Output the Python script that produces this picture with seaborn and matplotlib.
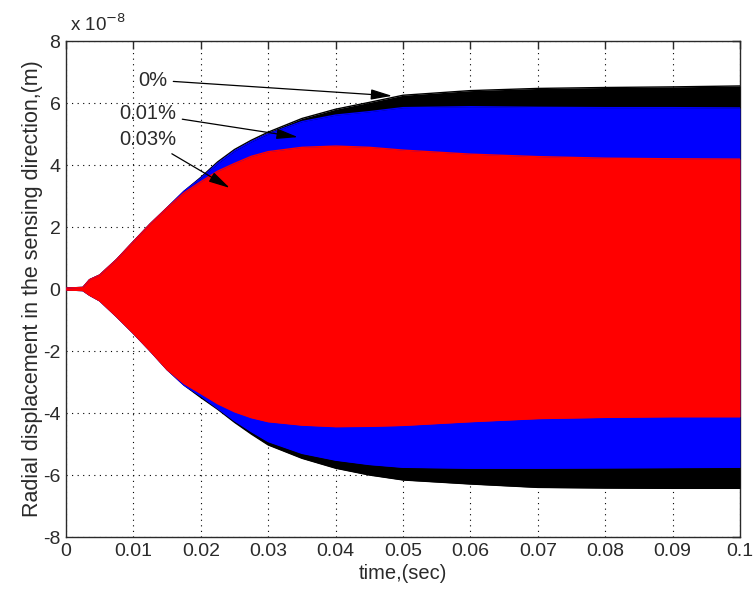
import numpy as np
import pandas as pd
import matplotlib
matplotlib.use("Agg")
import matplotlib.pyplot as plt
import seaborn as sns

# Time instants (s) at which the oscillation envelopes are sampled
times = [0.0, 0.0025, 0.0035, 0.005, 0.0075, 0.01, 0.0125, 0.015, 0.0175, 0.02,
         0.0225, 0.025, 0.0275, 0.03, 0.035, 0.04, 0.045, 0.05, 0.06, 0.07, 0.08,
         0.09, 0.1]

# Upper / lower envelopes of the radial displacement (units of 1e-8 m)
upper_0 = [0.03, 0.05, 0.3, 0.45, 0.95, 1.53, 2.1, 2.62, 3.15, 3.6,
           4.1, 4.5, 4.8, 5.06, 5.5, 5.8, 6.02, 6.25, 6.4, 6.47, 6.5, 6.52, 6.55]
lower_0 = [-0.03, -0.05, -0.2, -0.38, -0.89, -1.43, -2.0, -2.6, -3.1, -3.5,
           -3.88, -4.3, -4.68, -5.03, -5.46, -5.78, -6.0, -6.16, -6.29, -6.4,
           -6.42, -6.43, -6.43]

upper_001 = [0.03, 0.05, 0.3, 0.45, 0.95, 1.53, 2.1, 2.62, 3.15, 3.57,
             4.05, 4.45, 4.75, 5.0, 5.4, 5.61, 5.72, 5.85, 5.88, 5.86, 5.85, 5.85, 5.84]
lower_001 = [-0.03, -0.05, -0.2, -0.38, -0.89, -1.43, -2.0, -2.6, -3.1, -3.45,
             -3.85, -4.25, -4.6, -4.92, -5.3, -5.52, -5.66, -5.75, -5.78, -5.78,
             -5.77, -5.76, -5.75]

upper_003 = [0.03, 0.05, 0.3, 0.45, 0.95, 1.53, 2.1, 2.62, 3.1, 3.46,
             3.8, 4.05, 4.28, 4.43, 4.57, 4.61, 4.57, 4.48, 4.35, 4.27, 4.22, 4.2, 4.19]
lower_003 = [-0.03, -0.05, -0.2, -0.38, -0.89, -1.43, -2.0, -2.6, -3.05, -3.37,
             -3.7, -3.96, -4.15, -4.28, -4.39, -4.44, -4.43, -4.4, -4.28, -4.18,
             -4.14, -4.12, -4.12]

series_labels = ["0%", "0.01%", "0.03%"]
series_colors = ["#000000", "#0000FF", "#FF0000"]

x_ticks = [0, 0.01, 0.02, 0.03, 0.04, 0.05, 0.06, 0.07, 0.08, 0.09, 0.1]
x_tick_labels = ["0", "0.01", "0.02", "0.03", "0.04", "0.05", "0.06", "0.07", "0.08", "0.09", "0.1"]
y_ticks = [-8, -6, -4, -2, 0, 2, 4, 6, 8]
y_tick_labels = ["-8", "-6", "-4", "-2", "0", "2", "4", "6", "8"]

# annotation text anchors and arrow tips (time, displacement)
label_text_pos = [(0.0107, 6.74), (0.0079, 5.65), (0.0079, 4.82)]
label_arrow_tip = [(0.0484, 6.23), (0.0344, 4.9), (0.0243, 3.26)]

sns.set_style("white")
plt.rcParams["font.family"] = ["Liberation Sans", "DejaVu Sans"]
plt.rcParams["axes.unicode_minus"] = False

text_color = "#2a2a2a"

frames = []
for lab, up, lo in zip(series_labels,
                       [upper_0, upper_001, upper_003],
                       [lower_0, lower_001, lower_003]):
    frames.append(pd.DataFrame({"t": times, "upper": up, "lower": lo, "case": lab}))
df = pd.concat(frames, ignore_index=True)

fig = plt.figure(figsize=(7.56, 5.94), dpi=100)
ax = fig.add_axes([66 / 756, 57 / 594, 674 / 756, 496 / 594])

for lab, col in zip(series_labels, series_colors):
    d = df[df["case"] == lab]
    ax.fill_between(d["t"], d["lower"], d["upper"], color=col, linewidth=0, zorder=3)
    sns.lineplot(data=d, x="t", y="upper", color=col, lw=1.0, ax=ax, zorder=3)
    sns.lineplot(data=d, x="t", y="lower", color=col, lw=1.0, ax=ax, zorder=3)

ax.set_xlim(0, 0.1)
ax.set_ylim(-8, 8)
ax.set_xticks(x_ticks)
ax.set_xticklabels(x_tick_labels)
ax.set_yticks(y_ticks)
ax.set_yticklabels(y_tick_labels)

ax.grid(True, color="black", linestyle=(0, (1, 4)), linewidth=0.8, zorder=1)
ax.set_axisbelow(True)
ax.tick_params(direction="in", length=6, width=1.0, top=True, right=True,
               labelsize=14, colors=text_color, pad=4)
for sp in ax.spines.values():
    sp.set_color(text_color)
    sp.set_linewidth(1.0)

ax.set_xlabel("time,(sec)", fontsize=14.5, color=text_color, labelpad=3)
ax.set_ylabel("Radial displacement in the sensing direction,(m)", fontsize=15.5,
              color=text_color, labelpad=0)

fig.text(70 / 756, 1 - 31 / 594, "x 10$^{-8}$", fontsize=13.5, color=text_color,
         ha="left", va="baseline")

for lab, (tx, ty), (ax_t, ay) in zip(series_labels, label_text_pos, label_arrow_tip):
    ax.annotate(lab, xy=(ax_t, ay), xytext=(tx, ty), fontsize=14.5, color=text_color,
                ha="left", va="center", zorder=6,
                arrowprops=dict(arrowstyle="-|>,head_length=0.9,head_width=0.22",
                                color="black", lw=0.9, shrinkA=2, shrinkB=0))

fig.savefig("out.png", dpi=100)
